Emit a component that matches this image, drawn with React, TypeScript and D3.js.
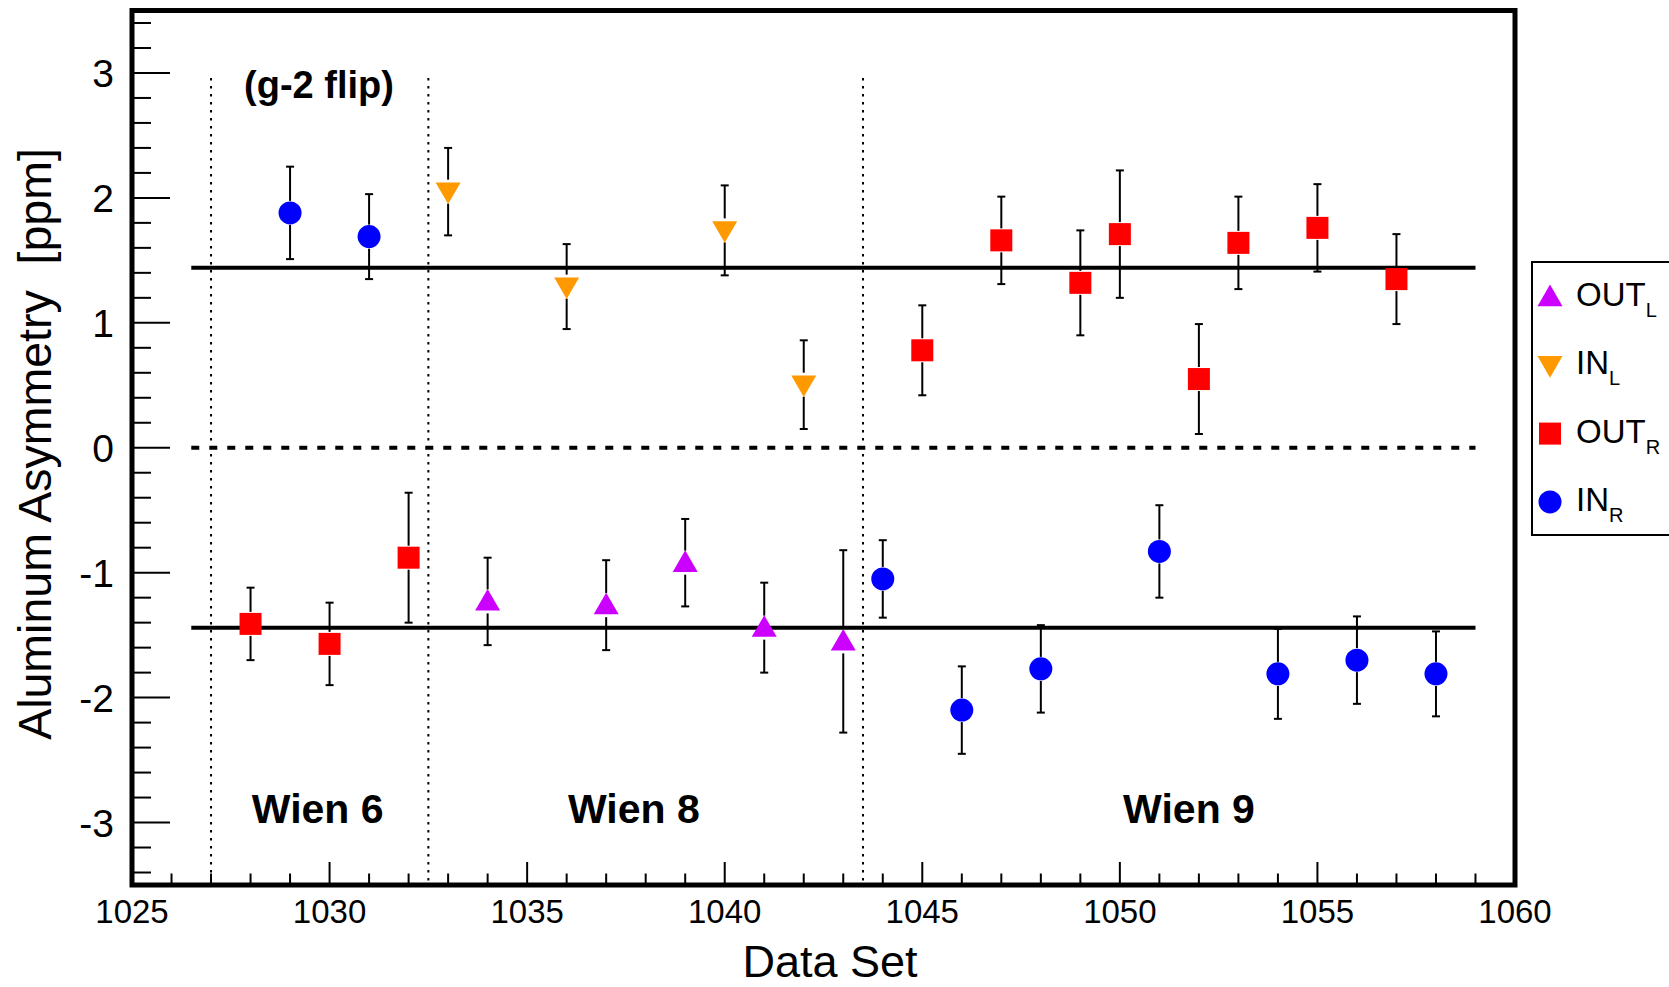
import React from "react";
import * as d3 from "d3";

const W = 1669;
const H = 987;

// Data: [dataSet, asymmetry, error]
const inR: [number, number, number][] = [
  [1029, 1.88, 0.37],
  [1031, 1.69, 0.34],
  [1044, -1.05, 0.31],
  [1046, -2.1, 0.35],
  [1048, -1.77, 0.35],
  [1051, -0.83, 0.37],
  [1054, -1.81, 0.36],
  [1056, -1.7, 0.35],
  [1058, -1.81, 0.34],
];
const outR: [number, number, number][] = [
  [1028, -1.41, 0.29],
  [1030, -1.57, 0.33],
  [1032, -0.88, 0.52],
  [1045, 0.78, 0.36],
  [1047, 1.66, 0.35],
  [1049, 1.32, 0.42],
  [1050, 1.71, 0.51],
  [1052, 0.55, 0.44],
  [1053, 1.64, 0.37],
  [1055, 1.76, 0.35],
  [1057, 1.35, 0.36],
];
const inL: [number, number, number][] = [
  [1033, 2.05, 0.35],
  [1036, 1.29, 0.34],
  [1040, 1.74, 0.36],
  [1042, 0.505, 0.355],
];
const outL: [number, number, number][] = [
  [1034, -1.23, 0.35],
  [1037, -1.26, 0.36],
  [1039, -0.92, 0.35],
  [1041, -1.44, 0.36],
  [1043, -1.55, 0.73],
];

const xMajorTicks = [1025, 1030, 1035, 1040, 1045, 1050, 1055, 1060];
const yMajorTicks = [-3, -2, -1, 0, 1, 2, 3];
const wienBoundaries = [1027, 1032.5, 1043.5];
const meanLevel = 1.44;
const lineRange: [number, number] = [1026.5, 1059];
const wienLabels: [string, number][] = [
  ["Wien 6", 1029.7],
  ["Wien 8", 1037.7],
  ["Wien 9", 1051.75],
];

const FONT = "'Liberation Sans', Arial, Helvetica, sans-serif";

const x = d3.scaleLinear().domain([1025, 1060]).range([132, 1515]);
const y = d3.scaleLinear().domain([-3.5, 3.5]).range([885, 10.5]);

type Kind = "up" | "down" | "square" | "circle";

function Marker({ kind, cx, cy, color }: { kind: Kind; cx: number; cy: number; color: string }) {
  if (kind === "circle") return <circle cx={cx} cy={cy} r={11.5} fill={color} />;
  if (kind === "square") return <rect x={cx - 11} y={cy - 11} width={22} height={22} fill={color} />;
  const tri = d3.symbol().type(d3.symbolTriangle).size(270)();
  return (
    <path
      d={tri || ""}
      transform={`translate(${cx},${cy + (kind === "up" ? 2 : -2)}) rotate(${kind === "up" ? 0 : 180})`}
      fill={color}
    />
  );
}

function Series({ data, kind, color }: { data: [number, number, number][]; kind: Kind; color: string }) {
  const gap = 12;
  return (
    <g>
      {data.map(([xv, yv, ev], i) => {
        const cx = x(xv);
        const cy = y(yv);
        const top = y(yv + ev);
        const bot = y(yv - ev);
        return (
          <g key={i}>
            {cy - gap > top && <line x1={cx} x2={cx} y1={top} y2={cy - gap} stroke="#000" strokeWidth={2} />}
            {cy + gap < bot && <line x1={cx} x2={cx} y1={cy + gap} y2={bot} stroke="#000" strokeWidth={2} />}
            <line x1={cx - 4} x2={cx + 4} y1={top} y2={top} stroke="#000" strokeWidth={2} />
            <line x1={cx - 4} x2={cx + 4} y1={bot} y2={bot} stroke="#000" strokeWidth={2} />
            <Marker kind={kind} cx={cx} cy={cy} color={color} />
          </g>
        );
      })}
    </g>
  );
}

export default function App() {
  const [x0, x1] = x.range();
  const [y0, y1] = y.range();
  const xMinor = d3.range(1025, 1061, 1);
  const yMinor = d3.range(-34, 35, 2).map((v) => v / 10);

  const legendItems: { kind: Kind; color: string; main: string; sub: string }[] = [
    { kind: "up", color: "#cc00ff", main: "OUT", sub: "L" },
    { kind: "down", color: "#ff9900", main: "IN", sub: "L" },
    { kind: "square", color: "#ff0000", main: "OUT", sub: "R" },
    { kind: "circle", color: "#0000ff", main: "IN", sub: "R" },
  ];

  return (
    <svg
      width={W}
      height={H}
      style={{ position: "absolute", left: 0, top: 0, background: "#fff" }}
      fontFamily={FONT}
    >
      <rect x={0} y={0} width={W} height={H} fill="#fff" />
      {/* boundaries */}
      {wienBoundaries.map((b, i) => (
        <line
          key={i}
          x1={x(b)}
          x2={x(b)}
          y1={y(2.96)}
          y2={y0}
          stroke="#000"
          strokeWidth={2}
          strokeDasharray="2.5,5.5"
        />
      ))}
      {/* mean lines */}
      <line x1={x(lineRange[0])} x2={x(lineRange[1])} y1={y(meanLevel)} y2={y(meanLevel)} stroke="#000" strokeWidth={4} />
      <line x1={x(lineRange[0])} x2={x(lineRange[1])} y1={y(-meanLevel)} y2={y(-meanLevel)} stroke="#000" strokeWidth={4} />
      <line
        x1={x(lineRange[0])}
        x2={x(lineRange[1])}
        y1={y(0)}
        y2={y(0)}
        stroke="#000"
        strokeWidth={4}
        strokeDasharray="8,10"
      />

      {/* data */}
      <Series data={outL} kind="up" color="#cc00ff" />
      <Series data={inL} kind="down" color="#ff9900" />
      <Series data={outR} kind="square" color="#ff0000" />
      <Series data={inR} kind="circle" color="#0000ff" />

      {/* annotations */}
      <text x={319} y={98} fontSize={38} fontWeight="bold" textAnchor="middle">
        (g-2 flip)
      </text>
      {wienLabels.map(([t, xv], i) => (
        <text key={i} x={x(xv)} y={823} fontSize={41} fontWeight="bold" textAnchor="middle">
          {t}
        </text>
      ))}

      {/* axes ticks */}
      {xMinor.map((v) => {
        const major = xMajorTicks.includes(v);
        return (
          <line key={"xm" + v} x1={x(v)} x2={x(v)} y1={y0} y2={y0 - (major ? 23 : 11.5)} stroke="#000" strokeWidth={2} />
        );
      })}
      {yMinor.map((v) => {
        const major = Math.abs(v - Math.round(v)) < 1e-6;
        return (
          <line key={"ym" + v} x1={x0} x2={x0 + (major ? 38 : 19)} y1={y(v)} y2={y(v)} stroke="#000" strokeWidth={2} />
        );
      })}
      {xMajorTicks.map((v) => (
        <text key={"xl" + v} x={x(v)} y={923} fontSize={33} textAnchor="middle">
          {v}
        </text>
      ))}
      {yMajorTicks.map((v) => (
        <text key={"yl" + v} x={114} y={y(v) + 14} fontSize={39} textAnchor="end">
          {v}
        </text>
      ))}

      {/* frame */}
      <rect x={x0} y={y1} width={x1 - x0} height={y0 - y1} fill="none" stroke="#000" strokeWidth={5} />

      {/* axis titles */}
      <text x={830} y={977} fontSize={45} textAnchor="middle">
        Data Set
      </text>
      <text transform="translate(51,444) rotate(-90)" fontSize={46.5} textAnchor="middle" xmlSpace="preserve">
        Aluminum Asymmetry  [ppm]
      </text>

      {/* legend */}
      <rect x={1532} y={262} width={160} height={273} fill="#fff" stroke="#000" strokeWidth={2} />
      {legendItems.map((it, i) => {
        const cy = 297 + i * 68.3;
        return (
          <g key={i}>
            <Marker kind={it.kind} cx={1550} cy={cy} color={it.color} />
            <text x={1576} y={cy + 9} fontSize={33}>
              {it.main}
              <tspan fontSize={20} dy={11}>
                {it.sub}
              </tspan>
            </text>
          </g>
        );
      })}
    </svg>
  );
}
